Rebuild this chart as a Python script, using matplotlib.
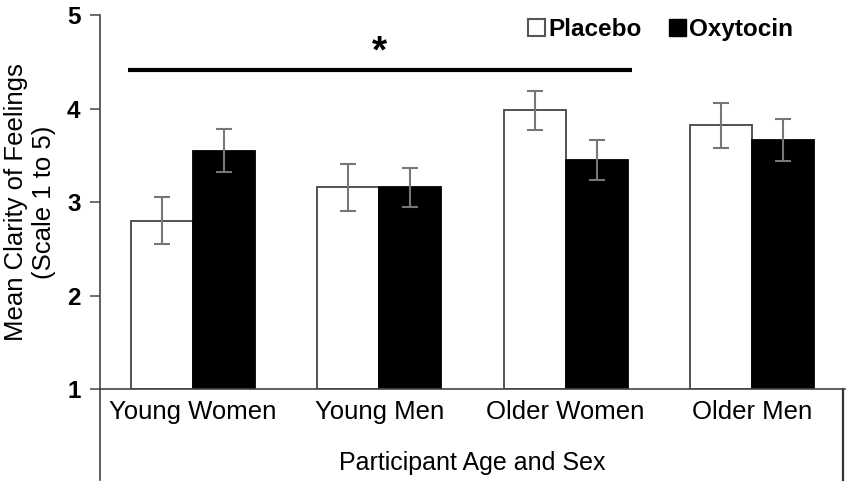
import matplotlib.pyplot as plt
import numpy as np
from matplotlib.patches import Patch

plt.rcParams['font.family'] = ['Liberation Sans', 'DejaVu Sans']

# data
groups = ["Young Women", "Young Men", "Older Women", "Older Men"]
placebo = [2.80, 3.16, 3.98, 3.82]
placebo_err = [0.25, 0.25, 0.21, 0.24]
oxytocin = [3.55, 3.16, 3.45, 3.66]
oxytocin_err = [0.23, 0.21, 0.215, 0.225]

W, H = 850, 484
fig = plt.figure(figsize=(W / 100, H / 100), dpi=100)
ax = fig.add_axes([100 / W, 1 - 389.3 / H, 745 / W, 374.3 / H])

x = np.arange(len(groups))
bw = 1 / 3
err_kw = dict(ecolor="#777777", elinewidth=1.5, capsize=5.5, capthick=1.5)
ax.bar(x - bw / 2, np.array(placebo) - 1, bw, bottom=1, color="white", edgecolor="#444444",
       linewidth=1.3, yerr=placebo_err, error_kw=err_kw, label="Placebo", zorder=2)
ax.bar(x + bw / 2, np.array(oxytocin) - 1, bw, bottom=1, color="black", edgecolor="black",
       linewidth=1.3, yerr=oxytocin_err, error_kw=err_kw, label="Oxytocin", zorder=2)

ax.set_xlim(-0.5, 3.5)
ax.set_ylim(1, 5)
ax.set_yticks([1, 2, 3, 4, 5])
ax.set_xticks(x)
ax.set_xticklabels(groups, fontsize=18.5)
ax.tick_params(axis="x", length=0, pad=8)
ax.tick_params(axis="y", length=7, width=1.2, color="#555555", pad=7, labelsize=17.5)
for t in ax.get_yticklabels():
    t.set_fontweight("bold")

for s in ["top", "right"]:
    ax.spines[s].set_visible(False)
ax.spines["left"].set_color("#444444")
ax.spines["bottom"].set_color("#444444")
ax.spines["left"].set_linewidth(1.2)
ax.spines["bottom"].set_linewidth(1.2)

# Excel-like category box below the axis
drop = -(480 - 389.3) / 374.3
ax.plot([0, 0], [0, drop], transform=ax.transAxes, color="#444444", lw=1.2, clip_on=False)
ax.plot([0.997, 0.997], [0, drop], transform=ax.transAxes, color="#333333", lw=1.6, clip_on=False)

ax.set_ylabel("Mean Clarity of Feelings\n(Scale 1 to 5)", fontsize=18.5, labelpad=8)
fig.text(472.5 / W, 1 - 463 / H, "Participant Age and Sex", fontsize=18, ha="center", va="center")

# significance bar
ax.plot([-0.35, 2.356], [4.415, 4.415], color="black", lw=3, solid_capstyle="butt", clip_on=False)
ax.text(1.0, 4.60, "*", fontsize=28, fontweight="bold", ha="center", va="center")

handles = [Patch(facecolor="white", edgecolor="#555555", linewidth=1.5, label="Placebo"),
           Patch(facecolor="black", edgecolor="black", label="Oxytocin")]
leg = ax.legend(handles=handles, loc="upper right", bbox_to_anchor=(703 / 745, 1.018), ncol=2,
                frameon=False, prop={"size": 17.5, "weight": "bold"}, handlelength=0.7,
                handleheight=0.7, handletextpad=0.15, columnspacing=1.1, borderaxespad=0)

fig.savefig("out.png", dpi=100)
